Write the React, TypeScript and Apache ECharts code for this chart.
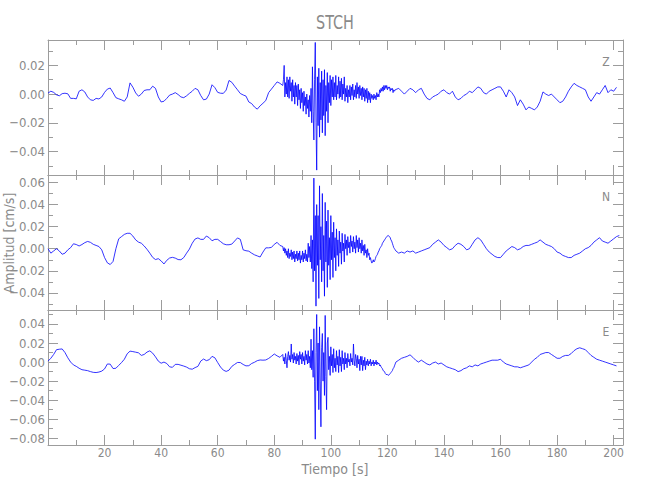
import React, { useEffect, useRef } from "react";
import * as echarts from "echarts";

// ---- data (seconds, cm/s) ----
// smooth part before the burst: t = 0..82 step 1 s
const zPre = [
  0.0007, 0.002, 0.0012, -0.0005, -0.0012, 0.0003, 0.0006, 0.0002, -0.003, -0.003,
  -0.0033, 0.002, 0.003, 0.0015, -0.002, -0.004, -0.0044, -0.003, -0.0034, -0.002,
  0.0012, 0.0035, 0.0042, 0.001, -0.0025, -0.0033, -0.004, -0.005, -0.002, 0.0078,
  0.0048, 0.0008, -0.0015, 0.0, 0.0025, 0.003, 0.003, 0.0055, 0.004, -0.002,
  -0.0055, -0.005, -0.003, -0.0007, 0.0, 0.001, -0.0003, -0.002, -0.0025, -0.0012,
  0.0005, 0.002, 0.004, 0.003, -0.001, -0.004, -0.0035, 0.0, 0.0065, 0.0045,
  0.0012, 0.0006, 0.0005, 0.0028, 0.0095, 0.0082, 0.0055, 0.003, 0.0004, -0.0006,
  -0.0014, -0.0055, -0.0066, -0.009, -0.0105, -0.0082, -0.0064, -0.0045, 0.001, 0.0035,
  0.006, 0.0085, 0.0075,
];
// burst: t = 83.00..122.75 step 0.25 s
const zBurst = [
  0.006, 0.01, 0.02, -0.002, 0.008, 0.0, 0.012, -0.002,
  0.01, -0.003, 0.012, 0.002, 0.008, -0.005, 0.01, -0.002,
  0.006, -0.007, 0.008, -0.002, 0.006, -0.008, 0.007, -0.004,
  0.003, -0.01, 0.004, -0.006, 0.001, -0.012, 0.002, -0.008,
  -0.002, -0.014, 0.0, -0.01, -0.004, -0.016, -0.001, -0.012,
  0.004, -0.02, 0.019, -0.012, -0.032, 0.01, 0.036, -0.02,
  -0.053, 0.012, -0.022, 0.018, -0.03, 0.008, -0.018, 0.016,
  -0.027, 0.01, -0.015, 0.017, -0.029, 0.006, -0.012, 0.015,
  -0.02, 0.008, -0.006, 0.013, -0.008, 0.01, -0.002, 0.012,
  -0.004, 0.008, -0.002, 0.013, -0.004, 0.006, 0.0, 0.012,
  -0.003, 0.009, -0.002, 0.011, -0.004, 0.007, 0.0, 0.012,
  -0.005, 0.004, -0.002, 0.006, -0.006, 0.003, -0.002, 0.006,
  -0.004, 0.005, -0.001, 0.007, -0.004, 0.003, -0.002, 0.006,
  -0.003, 0.008, 0.0, 0.005, -0.003, 0.006, -0.001, 0.004,
  -0.004, 0.005, -0.002, 0.004, -0.005, 0.003, -0.003, 0.004,
  -0.006, 0.002, -0.004, 0.001, -0.006, 0.0, -0.003, -0.001,
  -0.004, 0.0, -0.003, -0.001, -0.004, 0.001, -0.002, 0.0,
  -0.002, 0.003, 0.001, 0.004, 0.002, 0.005, 0.002, 0.006,
  0.003, 0.006, 0.004, 0.006, 0.003, 0.005, 0.004, 0.005,
  0.002, 0.004, 0.003, 0.004, 0.001, 0.003, 0.002, 0.003,
];
// after the burst: t = 123.. step 1 s
const zPost = [
  0.003, 0.004, 0.002, 0.0, 0.002, 0.004, 0.003, 0.001, 0.003, 0.004,
  0.0, -0.003, -0.004, -0.002, -0.001, 0.0, 0.002, 0.003, 0.001, 0.0,
  0.002, -0.002, -0.004, -0.003, -0.001, 0.0, 0.002, 0.001, 0.003, 0.005,
  0.004, 0.001, 0.0, 0.002, 0.003, 0.004, 0.005, 0.005, 0.002, -0.002,
  0.003, 0.001, -0.002, -0.008, -0.004, -0.007, -0.011, -0.009, -0.01, -0.011,
  -0.009, -0.005, 0.0015, 0.0, -0.001, 0.0, -0.002, -0.004, -0.006, -0.005,
  -0.002, 0.002, 0.005, 0.0075, 0.006, 0.005, 0.004, 0.003, -0.002, -0.005,
  -0.002, 0.001, 0.0, 0.003, 0.006, 0.001, 0.003, 0.002, 0.0047,
];

const nPre = [
  0.0, -0.004, -0.002, 0.0, -0.002, -0.005, -0.004, -0.001, 0.001, 0.0045,
  0.0038, 0.0025, 0.0038, 0.0055, 0.0066, 0.0058, 0.004, 0.003, 0.002, -0.001,
  -0.008, -0.0128, -0.0143, -0.0115, 0.0, 0.009, 0.011, 0.013, 0.014, 0.014,
  0.0115, 0.008, 0.006, 0.005, 0.0025, -0.0005, -0.004, -0.0078, -0.0098, -0.009,
  -0.011, -0.0138, -0.0105, -0.0084, -0.0078, -0.0085, -0.0098, -0.01, -0.008, -0.004,
  -0.0003, 0.005, 0.0088, 0.0098, 0.0085, 0.0085, 0.0115, 0.01, 0.0072, 0.0085,
  0.0085, 0.0065, 0.0045, 0.0036, 0.0036, 0.0042, 0.007, 0.0098, 0.0085, -0.001,
  -0.0018, -0.0022, -0.004, -0.0055, -0.0065, -0.0075, -0.003, 0.0008, 0.0008, 0.0012,
  0.004, 0.0058, 0.003,
];
const nBurst = [
  0.002, -0.002, 0.001, -0.004, 0.0, -0.006, -0.002, -0.008,
  0.0, -0.009, -0.004, -0.007, -0.001, -0.01, -0.003, -0.009,
  -0.002, -0.012, -0.005, -0.009, -0.002, -0.011, -0.004, -0.01,
  -0.002, -0.013, -0.006, -0.01, -0.002, -0.012, -0.004, -0.009,
  -0.001, -0.011, -0.005, -0.012, 0.005, -0.008, 0.002, -0.012,
  0.012, -0.018, 0.008, -0.03, 0.064, -0.02, 0.03, -0.052,
  0.04, -0.015, 0.03, -0.045, 0.057, -0.01, 0.02, -0.03,
  0.05, -0.02, 0.012, -0.043, 0.042, -0.012, 0.025, -0.035,
  0.035, -0.015, 0.01, -0.028, 0.03, -0.01, 0.015, -0.026,
  0.024, -0.008, 0.01, -0.02, 0.018, -0.006, 0.008, -0.016,
  0.016, -0.004, 0.006, -0.014, 0.014, -0.002, 0.005, -0.012,
  0.013, 0.0, 0.008, -0.006, 0.011, 0.001, 0.006, -0.004,
  0.012, 0.002, 0.007, -0.003, 0.011, 0.0, 0.006, -0.004,
  0.012, 0.001, 0.008, -0.003, 0.01, 0.0, 0.005, -0.004,
  0.008, -0.002, 0.003, -0.006, 0.004, -0.004, -0.001, -0.008,
  0.0, -0.006, -0.004, -0.01, -0.008, -0.011, -0.013, -0.012,
  -0.01, -0.012, -0.011, -0.009, -0.007, -0.006, -0.005, -0.003,
  -0.002, 0.0, 0.001, 0.002, 0.003, 0.005, 0.006, 0.007,
  0.008, 0.009, 0.01, 0.011, 0.011, 0.012, 0.012, 0.011,
  0.01, 0.008, 0.007, 0.005, 0.003, 0.001, 0.0, -0.001,
];
const nPost = [
  -0.002, -0.004, -0.003, -0.004, -0.002, -0.003, -0.002, -0.004, -0.003, -0.002,
  -0.001, 0.0, 0.001, 0.004, 0.006, 0.008, 0.006, 0.003, 0.001, -0.001,
  0.0, 0.003, 0.005, 0.004, 0.002, -0.001, 0.0, 0.004, 0.008, 0.01,
  0.008, 0.004, 0.0, -0.003, -0.005, -0.007, -0.008, -0.008, -0.005, -0.002,
  0.0, 0.002, 0.001, -0.001, 0.0, 0.002, 0.003, 0.003, 0.004, 0.005,
  0.006, 0.008, 0.006, 0.004, 0.003, 0.002, 0.0, -0.003, -0.004, -0.006,
  -0.007, -0.008, -0.008, -0.006, -0.005, -0.004, -0.002, 0.0, 0.001, 0.003,
  0.006, 0.008, 0.01, 0.007, 0.006, 0.005, 0.007, 0.009, 0.011, 0.012,
];

const ePre = [
  0.001, 0.004, 0.008, 0.013, 0.0135, 0.0138, 0.01, 0.0045, 0.0, -0.003,
  -0.0045, -0.0065, -0.008, -0.0085, -0.009, -0.01, -0.0108, -0.011, -0.0105, -0.0095,
  -0.0072, -0.002, -0.0022, -0.0068, -0.0065, -0.0035, -0.0005, 0.003, 0.0087, 0.0115,
  0.011, 0.0104, 0.0097, 0.007, 0.008, 0.0105, 0.0118, 0.0094, 0.0055, 0.001,
  -0.0012, 0.0, -0.0015, -0.005, -0.0055, -0.0024, -0.0024, -0.0033, -0.0042, -0.0053,
  -0.007, -0.0075, -0.0058, -0.0045, 0.001, 0.0032, 0.0015, 0.0025, 0.006, 0.0045,
  -0.0005, -0.0052, -0.0085, -0.0098, -0.0085, -0.0045, -0.0024, -0.0004, -0.0005, -0.0025,
  -0.004, -0.0038, -0.0015, -0.0002, 0.0015, 0.0022, 0.002, 0.0022, 0.0038, 0.006,
  0.0085, 0.0065, 0.005,
];
const eBurst = [
  0.008, 0.001, 0.005, -0.002, 0.009, 0.002, -0.006, 0.006,
  0.011, 0.002, 0.007, 0.0, 0.019, 0.003, 0.008, -0.001,
  0.01, 0.002, 0.006, -0.002, 0.009, 0.001, 0.007, -0.003,
  0.011, 0.003, 0.008, -0.002, 0.01, 0.001, 0.006, -0.003,
  0.012, 0.002, 0.008, -0.002, 0.012, -0.001, 0.006, -0.006,
  0.024, -0.008, 0.012, -0.016, 0.035, -0.02, -0.081, 0.01,
  0.05, -0.03, 0.02, -0.05, 0.037, -0.02, -0.068, 0.015,
  0.03, -0.02, 0.01, -0.035, 0.049, -0.015, -0.05, 0.02,
  0.026, -0.008, 0.006, -0.014, 0.016, -0.004, 0.008, -0.011,
  0.014, -0.006, 0.004, -0.01, 0.012, -0.003, 0.006, -0.011,
  0.013, -0.004, 0.005, -0.01, 0.012, -0.002, 0.004, -0.008,
  0.01, -0.002, 0.004, -0.006, 0.009, 0.0, 0.003, -0.004,
  0.009, 0.0, 0.004, -0.003, 0.019, 0.002, -0.004, 0.008,
  0.004, -0.006, 0.007, -0.002, 0.003, -0.009, 0.006, -0.003,
  0.006, -0.009, 0.002, -0.004, 0.005, -0.008, 0.001, -0.003,
  0.003, -0.004, 0.001, -0.002, 0.003, -0.004, 0.0, -0.002,
  0.002, -0.004, 0.0, -0.002, 0.002, -0.003, 0.0, -0.002,
  -0.001, -0.004, -0.003, -0.005, -0.006, -0.007, -0.009, -0.009,
  -0.01, -0.012, -0.013, -0.013, -0.013, -0.014, -0.014, -0.013,
  -0.012, -0.011, -0.01, -0.009, -0.007, -0.006, -0.004, -0.002,
];
const ePost = [
  0.0, 0.002, 0.004, 0.005, 0.006, 0.0076, 0.005, 0.002, 0.0, 0.002,
  0.0, -0.002, -0.003, -0.001, 0.0, -0.002, -0.001, -0.003, -0.005, -0.006,
  -0.007, -0.008, -0.01, -0.009, -0.007, -0.006, -0.004, -0.005, -0.003, -0.004,
  -0.002, -0.001, 0.0, 0.001, 0.002, 0.002, 0.002, 0.003, 0.0, -0.002,
  -0.003, -0.004, -0.005, -0.005, -0.006, -0.005, -0.004, -0.003, 0.0, 0.003,
  0.005, 0.008, 0.009, 0.01, 0.01, 0.008, 0.006, 0.004, 0.004, 0.006,
  0.007, 0.007, 0.009, 0.012, 0.014, 0.015, 0.014, 0.013, 0.01, 0.007,
  0.005, 0.003, 0.002, 0.001, 0.0, -0.001, -0.002, -0.003, -0.004,
];

const PRE_START = 0;
const BURST_START = 83;
const BURST_STEP = 0.25;
const POST_START = 123;

const componentNames = ["Z", "N", "E"];
const yMins = [-0.0564, -0.0555, -0.0871];
const yMaxs = [0.0377, 0.0668, 0.0547];
const yMajorTicks = [
  [-0.04, -0.02, 0, 0.02],
  [-0.04, -0.02, 0, 0.02, 0.04, 0.06],
  [-0.08, -0.06, -0.04, -0.02, 0, 0.02, 0.04],
];
const yMinorTicks = [
  [-0.05, -0.03, -0.01, 0.01, 0.03],
  [-0.05, -0.03, -0.01, 0.01, 0.03, 0.05],
  [-0.07, -0.05, -0.03, -0.01, 0.01, 0.03, 0.05],
];
const xMajorTicks = [20, 40, 60, 80, 100, 120, 140, 160, 180, 200];
const xMinorTicks = [10, 30, 50, 70, 90, 110, 130, 150, 170, 190];
const X_MIN = 0;
const X_MAX = 203.3;

const TITLE = "STCH";
const X_NAME = "Tiempo [s]";
const Y_NAME = "Amplitud [cm/s]";

function buildTrace(pre: number[], burst: number[], post: number[]) {
  const pts: number[][] = [];
  pre.forEach((v, i) => pts.push([PRE_START + i, v]));
  burst.forEach((v, i) => pts.push([BURST_START + i * BURST_STEP, v]));
  post.forEach((v, i) => pts.push([POST_START + i, v]));
  return pts;
}

const traces = [
  buildTrace(zPre, zBurst, zPost),
  buildTrace(nPre, nBurst, nPost),
  buildTrace(ePre, eBurst, ePost),
];

const FONT = "'Liberation Sans Narrow', 'DejaVu Sans Condensed', 'Liberation Sans', sans-serif";
const TEXT_COLOR = "#8a8a8a";
const LINE_COLOR = "#9c9c9c";

export default function App() {
  const ref = useRef<HTMLDivElement>(null);

  useEffect(() => {
    document.body.style.margin = "0";
    if (!ref.current) return;
    const chart = echarts.init(ref.current, null, { renderer: "svg" });

    const gridTops = [40, 175, 310];
    const gridH = 135;
    const grids = gridTops.map((top) => ({ left: 48, top, width: 575, height: gridH }));

    const xAxes: any[] = [];
    const yAxes: any[] = [];
    const fmtY = (v: number) => {
      const s = Math.abs(v) < 1e-9 ? "0.00" : v.toFixed(2);
      return s.replace("-", "\u2212");
    };

    grids.forEach((_, g) => {
      const baseX = {
        type: "value",
        gridIndex: g,
        min: X_MIN,
        max: X_MAX,
        splitLine: { show: false },
      };
      const xTick = (len: number, vals: number[]) => ({
        show: true,
        inside: true,
        length: len,
        customValues: vals,
        lineStyle: { color: LINE_COLOR },
      });
      xAxes.push({
        ...baseX,
        position: "bottom",
        axisLine: { show: true, onZero: false, lineStyle: { color: LINE_COLOR, width: 1 } },
        axisTick: xTick(10, xMajorTicks),
        axisLabel: {
          show: g === 2,
          customValues: xMajorTicks,
          margin: 2,
          color: TEXT_COLOR,
          fontFamily: FONT,
          fontSize: 12,
        },
      });
      xAxes.push({
        ...baseX,
        position: "bottom",
        axisLine: { show: false, onZero: false },
        axisTick: xTick(5, xMinorTicks),
        axisLabel: { show: false },
      });
      xAxes.push({
        ...baseX,
        position: "top",
        axisLine: { show: true, onZero: false, lineStyle: { color: LINE_COLOR, width: 1 } },
        axisTick: xTick(10, xMajorTicks),
        axisLabel: { show: false },
      });
      xAxes.push({
        ...baseX,
        position: "top",
        axisLine: { show: false, onZero: false },
        axisTick: xTick(5, xMinorTicks),
        axisLabel: { show: false },
      });

      const baseY = {
        type: "value",
        gridIndex: g,
        min: yMins[g],
        max: yMaxs[g],
        splitLine: { show: false },
      };
      const yTick = (len: number, vals: number[]) => ({
        show: true,
        inside: true,
        length: len,
        customValues: vals,
        lineStyle: { color: LINE_COLOR },
      });
      yAxes.push({
        ...baseY,
        position: "left",
        axisLine: { show: true, onZero: false, lineStyle: { color: LINE_COLOR, width: 1 } },
        axisTick: yTick(10, yMajorTicks[g]),
        axisLabel: {
          show: true,
          customValues: yMajorTicks[g],
          formatter: fmtY,
          margin: 3,
          color: TEXT_COLOR,
          fontFamily: FONT,
          fontSize: 13,
        },
      });
      yAxes.push({
        ...baseY,
        position: "left",
        axisLine: { show: false, onZero: false },
        axisTick: yTick(5, yMinorTicks[g]),
        axisLabel: { show: false },
      });
      yAxes.push({
        ...baseY,
        position: "right",
        axisLine: { show: true, onZero: false, lineStyle: { color: LINE_COLOR, width: 1 } },
        axisTick: yTick(10, yMajorTicks[g]),
        axisLabel: { show: false },
      });
      yAxes.push({
        ...baseY,
        position: "right",
        axisLine: { show: false, onZero: false },
        axisTick: yTick(5, yMinorTicks[g]),
        axisLabel: { show: false },
      });
    });

    const series = traces.map((data, g) => ({
      type: "line",
      xAxisIndex: g * 4,
      yAxisIndex: g * 4,
      data,
      showSymbol: false,
      symbol: "none",
      silent: true,
      lineStyle: { color: "#0000ff", width: 0.8 },
      clip: true,
    }));

    const textStyle = (extra: any) => ({
      fill: TEXT_COLOR,
      fontFamily: FONT,
      ...extra,
    });

    const graphic: any[] = [
      {
        type: "text",
        x: 335,
        y: 22,
        scaleX: 0.8,
        style: textStyle({ text: TITLE, fontSize: 20, textAlign: "center", textVerticalAlign: "middle" }),
      },
      {
        type: "text",
        x: 335,
        y: 469,
        style: textStyle({ text: X_NAME, fontSize: 14, textAlign: "center", textVerticalAlign: "middle" }),
      },
      {
        type: "text",
        x: 9,
        y: 243,
        rotation: Math.PI / 2,
        style: textStyle({ text: Y_NAME, fontSize: 14, textAlign: "center", textVerticalAlign: "middle" }),
      },
      ...componentNames.map((name, g) => ({
        type: "text",
        x: 606,
        y: gridTops[g] + 22,
        style: textStyle({ text: name, fontSize: 12, textAlign: "center", textVerticalAlign: "middle" }),
      })),
    ];

    chart.setOption({
      animation: false,
      backgroundColor: "#ffffff",
      grid: grids,
      xAxis: xAxes,
      yAxis: yAxes,
      series,
      graphic,
    });

    return () => chart.dispose();
  }, []);

  return <div ref={ref} style={{ width: 650, height: 500 }} />;
}
